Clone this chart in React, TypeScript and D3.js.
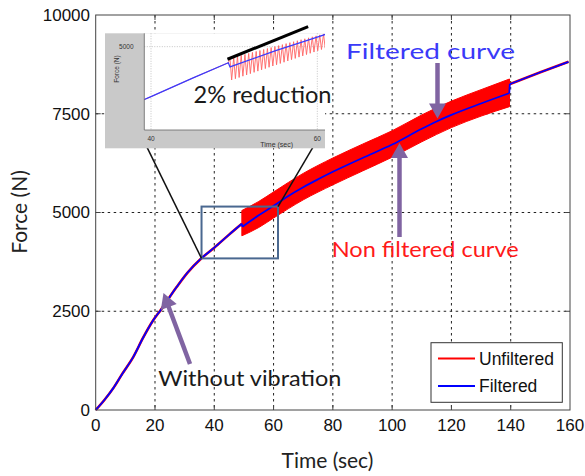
import React from 'react';
import * as d3 from 'd3';

// ---------- data ----------
const xTicks = [0, 20, 40, 60, 80, 100, 120, 140, 160];
const yTicks = [0, 2500, 5000, 7500, 10000];

// filtered force curve (time in s, force in N)
const filteredTime = [0, 3, 6, 9, 12.7, 16, 19.4, 22, 27.3, 31, 35.5, 40, 45, 49.3, 49.5, 55, 60, 65, 70, 75, 80, 90, 100, 110, 115, 120, 130, 139.5, 139.7, 150, 159.5];
const filteredForce = [0, 260, 560, 920, 1346, 1830, 2270, 2540, 3114, 3480, 3830, 4110, 4440, 4714, 4640, 4930, 5170, 5420, 5640, 5840, 6030, 6380, 6720, 7120, 7305, 7470, 7760, 8020, 8250, 8550, 8815];

// unfiltered (vibrating) envelope between 49 s and 140 s
const bandTime = [49.3, 55, 60, 70, 80, 90, 100, 110, 120, 130, 139.6];
const bandUpper = [5050, 5280, 5520, 5990, 6380, 6730, 7070, 7470, 7820, 8110, 8380];
const bandLower = [4410, 4620, 4860, 5320, 5700, 6050, 6400, 6790, 7150, 7440, 7680];

// inset: individual oscillation teeth of the unfiltered signal
const toothTime = [49.5, 49.95, 50.4, 50.85, 51.3, 51.75, 52.2, 52.65, 53.1, 53.55, 54.0, 54.45, 54.9, 55.35, 55.8, 56.25, 56.7, 57.15, 57.6, 58.05, 58.5, 58.95, 59.4, 59.85, 60.3, 60.75];
const toothPeak = [4794, 4811, 4829, 4846, 4863, 4881, 4898, 4915, 4932, 4950, 4967, 4984, 5002, 5019, 5036, 5054, 5071, 5088, 5105, 5123, 5140, 5157, 5175, 5192, 5209, 5226];
const toothTrough = [4407, 4430, 4452, 4475, 4497, 4520, 4543, 4565, 4588, 4610, 4633, 4656, 4678, 4701, 4723, 4746, 4769, 4791, 4814, 4836, 4859, 4882, 4904, 4927, 4949, 4972];

const insetXTicks = [40, 60];
const insetYTicks = [5000];
// extrapolated (no reduction) line in the inset
const refLineTime = [49.2, 58.9];
const refLineForce = [4776, 5356];

// zoom box in main chart
const boxTime = [35.7, 61.5];
const boxForce = [3838, 5150];

// ---------- component ----------
const W = 585, H = 476;
const PURPLE = '#8064a2';
const ANN_FONT = 'Lato, "Open Sans", sans-serif';
const ML_FONT = '"Liberation Sans", Arial, sans-serif';

type Pt = [number, number];

function Arrow({ x1, y1, x2, y2 }: { x1: number; y1: number; x2: number; y2: number }) {
  const dx = x2 - x1, dy = y2 - y1;
  const len = Math.hypot(dx, dy);
  const ux = dx / len, uy = dy / len;
  const hl = 15, hw = 8.5;
  const bx = x2 - ux * hl, by = y2 - uy * hl;
  const px = -uy, py = ux;
  return (
    <g>
      <line x1={x1} y1={y1} x2={bx + ux * 2} y2={by + uy * 2} stroke={PURPLE} strokeWidth={4.5} />
      <path d={`M${x2},${y2} L${bx + px * hw},${by + py * hw} L${bx - px * hw},${by - py * hw} Z`} fill={PURPLE} />
    </g>
  );
}

// split a series at its sudden steps (gap < 0.3 s) so smooth parts are curved and steps stay sharp
function segments(pts: Pt[]): Pt[][] {
  const out: Pt[][] = [[pts[0]]];
  for (let i = 1; i < pts.length; i++) {
    if (pts[i][0] - pts[i - 1][0] < 0.3) {
      out.push([pts[i - 1], pts[i]]);
      out.push([pts[i]]);
    } else {
      out[out.length - 1].push(pts[i]);
    }
  }
  return out.filter(s => s.length > 1);
}

export default function App() {
  const x = d3.scaleLinear().domain([0, 160]).range([95.7, 570]);
  const y = d3.scaleLinear().domain([0, 10000]).range([410, 15]);

  const filtered: Pt[] = filteredTime.map((t, i) => [t, filteredForce[i]]);
  const line = d3.line<Pt>().x(d => x(d[0])).y(d => y(d[1])).curve(d3.curveMonotoneX);
  const pathOf = (pts: Pt[]) => segments(pts).map(s => line(s) || '').join(' ');
  const band = d3.area<number>()
    .x((_, i) => x(bandTime[i]))
    .y0((_, i) => y(bandLower[i]))
    .y1((_, i) => y(bandUpper[i]))
    .curve(d3.curveMonotoneX);

  const preVib = filtered.filter(d => d[0] <= 49.3);
  const postVib = filtered.filter(d => d[0] >= 139.7);

  // inset
  const ix = d3.scaleLinear().domain([40, 60]).range([151, 317.3]);
  const iy = d3.scaleLinear().domain([3500, 5250]).range([131, 32.6]);
  const iLine = d3.line<Pt>().x(d => ix(d[0])).y(d => iy(d[1]));
  const insetRed: Pt[] = [...filtered.filter(d => d[0] <= 49.3)];
  toothTime.forEach((t, i) => {
    insetRed.push([t, toothPeak[i]]);
    insetRed.push([t + 0.2, toothTrough[i]]);
  });
  const inset = { gx0: 105, gx1: 325, gy0: 33.3, gy1: 148.3, ax0: 144.3, ay1: 130 };

  const bx0 = x(boxTime[0]), bx1 = x(boxTime[1]);
  const by0 = y(boxForce[1]), by1 = y(boxForce[0]);

  return (
    <svg width={W} height={H} style={{ position: 'absolute', left: 0, top: 0, background: '#fff' }}>
      <defs>
        <clipPath id="insetClip">
          <rect x={inset.ax0} y={inset.gy0} width={inset.gx1 - inset.ax0} height={inset.ay1 - inset.gy0} />
        </clipPath>
      </defs>
      <rect x={0} y={0} width={W} height={H} fill="#fff" />

      {/* grid */}
      {xTicks.slice(1, -1).map(t => (
        <line key={'gx' + t} x1={x(t)} x2={x(t)} y1={15} y2={410} stroke="#222" strokeWidth={1} strokeDasharray="2.5,3.5" />
      ))}
      {yTicks.slice(1, -1).map(v => (
        <line key={'gy' + v} x1={95.7} x2={570} y1={y(v)} y2={y(v)} stroke="#222" strokeWidth={1} strokeDasharray="2.5,3.5" />
      ))}

      {/* data */}
      <path d={band(bandTime) || ''} fill="#ff0000" stroke="#ff0000" strokeWidth={1} />
      <path d={pathOf(preVib)} fill="none" stroke="#ff0000" strokeWidth={2.6} />
      <path d={pathOf(postVib)} fill="none" stroke="#ff0000" strokeWidth={2.6} />
      <path d={pathOf(filtered)} fill="none" stroke="#0000ff" strokeWidth={1.8} />

      {/* frame */}
      <rect x={95.7} y={15} width={570 - 95.7} height={395} fill="none" stroke="#444" strokeWidth={1} />
      {xTicks.slice(1, -1).map(t => (
        <g key={'tx' + t}>
          <line x1={x(t)} x2={x(t)} y1={410} y2={405} stroke="#444" />
          <line x1={x(t)} x2={x(t)} y1={15} y2={20} stroke="#444" />
        </g>
      ))}
      {yTicks.slice(1, -1).map(v => (
        <g key={'ty' + v}>
          <line x1={95.7} x2={100.7} y1={y(v)} y2={y(v)} stroke="#444" />
          <line x1={570} x2={565} y1={y(v)} y2={y(v)} stroke="#444" />
        </g>
      ))}

      {/* tick labels */}
      {xTicks.map(t => (
        <text key={'lx' + t} x={x(t)} y={431} textAnchor="middle" fontFamily={ML_FONT} fontSize={17} fill="#111">{t}</text>
      ))}
      {yTicks.map(v => (
        <text key={'ly' + v} x={90} y={y(v)} dy="0.35em" textAnchor="end" fontFamily={ML_FONT} fontSize={17} fill="#111">{v}</text>
      ))}

      {/* axis titles */}
      <text x={327.5} y={468} textAnchor="middle" fontFamily={ANN_FONT} fontSize={21} fill="#222">Time (sec)</text>
      <text transform="translate(27,212) rotate(-90)" textAnchor="middle" fontFamily={ANN_FONT} fontSize={21} fill="#222">Force (N)</text>

      {/* zoom box */}
      <rect x={bx0} y={by0} width={bx1 - bx0} height={by1 - by0} fill="none" stroke="#4a6890" strokeWidth={2} />
      <line x1={146.7} y1={146.7} x2={bx0} y2={by1} stroke="#111" strokeWidth={1.5} />
      <line x1={313.3} y1={146.7} x2={bx1} y2={by0} stroke="#111" strokeWidth={1.5} />

      {/* inset */}
      <rect x={inset.gx0} y={inset.gy0} width={inset.gx1 - inset.gx0} height={inset.gy1 - inset.gy0} fill="#c9c9c9" />
      <rect x={inset.ax0} y={inset.gy0} width={inset.gx1 - inset.ax0} height={inset.ay1 - inset.gy0} fill="#fff" />
      {insetXTicks.map(t => (
        <line key={'igx' + t} x1={ix(t)} x2={ix(t)} y1={inset.gy0} y2={inset.ay1} stroke="#b5b5b5" strokeWidth={0.8} strokeDasharray="1,1.5" />
      ))}
      {insetYTicks.map(v => (
        <line key={'igy' + v} x1={inset.ax0} x2={inset.gx1} y1={iy(v)} y2={iy(v)} stroke="#b5b5b5" strokeWidth={0.8} strokeDasharray="1,1.5" />
      ))}
      <g clipPath="url(#insetClip)">
        <path d={iLine(insetRed) || ''} fill="none" stroke="#ff6464" strokeWidth={0.9} />
        <path d={iLine(filtered) || ''} fill="none" stroke="#3a3aff" strokeWidth={1.3} />
      </g>
      <line x1={inset.ax0} x2={inset.ax0} y1={inset.gy0} y2={inset.ay1} stroke="#666" strokeWidth={0.8} />
      <line x1={inset.ax0} x2={inset.gx1} y1={inset.ay1} y2={inset.ay1} stroke="#666" strokeWidth={0.8} />
      {insetXTicks.map(t => (
        <text key={'ilx' + t} x={ix(t)} y={141} textAnchor="middle" fontFamily={ML_FONT} fontSize={6.5} fill="#333">{t}</text>
      ))}
      {insetYTicks.map(v => (
        <text key={'ily' + v} x={133.5} y={iy(v)} dy="0.35em" textAnchor="end" fontFamily={ML_FONT} fontSize={6.5} fill="#333">{v}</text>
      ))}
      <text x={276.7} y={146.5} textAnchor="middle" fontFamily={ML_FONT} fontSize={7} fill="#333">Time (sec)</text>
      <text transform="translate(119,69) rotate(-90)" textAnchor="middle" fontFamily={ML_FONT} fontSize={6.5} fill="#333">Force (N)</text>
      <line x1={ix(refLineTime[0])} y1={iy(refLineForce[0])} x2={ix(refLineTime[1])} y2={iy(refLineForce[1])} stroke="#000" strokeWidth={3} />
      <text x={193.5} y={102.7} fontFamily={ANN_FONT} fontSize={23} fill="#1a1a1a" textLength={138} lengthAdjust="spacingAndGlyphs">2% reduction</text>

      {/* annotations */}
      <Arrow x1={190} y1={364} x2={163.5} y2={293} />
      <Arrow x1={437.5} y1={63} x2={437.5} y2={118.5} />
      <Arrow x1={399.5} y1={237} x2={399.5} y2={143} />
      <text x={346} y={58.5} fontFamily={ANN_FONT} fontSize={21} fill="#3a3af8" textLength={169} lengthAdjust="spacingAndGlyphs">Filtered curve</text>
      <text x={331.7} y={256.7} fontFamily={ANN_FONT} fontSize={21} fill="#ff1a1a" textLength={187} lengthAdjust="spacingAndGlyphs">Non filtered curve</text>
      <text x={158.3} y={386} fontFamily={ANN_FONT} fontSize={21} fill="#1a1a1a" textLength={183} lengthAdjust="spacingAndGlyphs">Without vibration</text>

      {/* legend */}
      <rect x={431} y={342.7} width={131.3} height={59.6} fill="#fff" stroke="#333" strokeWidth={1} />
      <line x1={438} x2={475} y1={358.5} y2={358.5} stroke="#ff0000" strokeWidth={2} />
      <line x1={438} x2={475} y1={386} y2={386} stroke="#0000ff" strokeWidth={2} />
      <text x={479} y={358.5} dy="0.36em" fontFamily={ML_FONT} fontSize={17.5} fill="#111">Unfiltered</text>
      <text x={479} y={386} dy="0.36em" fontFamily={ML_FONT} fontSize={17.5} fill="#111">Filtered</text>
    </svg>
  );
}
